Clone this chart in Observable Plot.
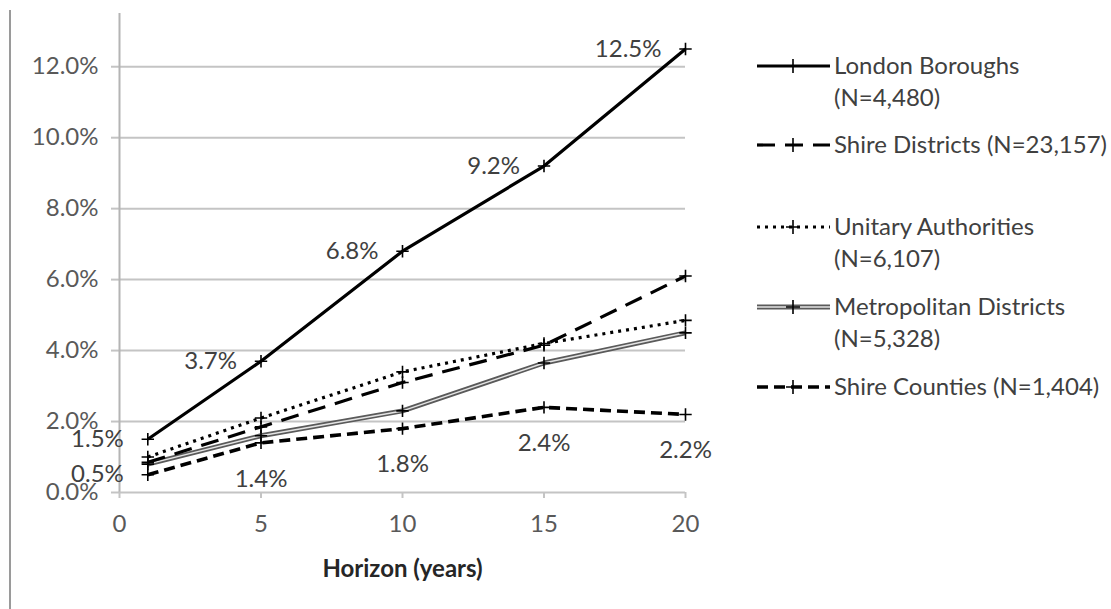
<!DOCTYPE html>
<html><head><meta charset="utf-8">
<script src="https://cdn.jsdelivr.net/npm/d3@7"></script>
<script src="https://cdn.jsdelivr.net/npm/@observablehq/plot@0.6"></script>
<style>
body{margin:0;background:#fff;}
#wrap{position:relative;width:1111px;height:609px;overflow:hidden;font-family:Lato, sans-serif;background:#fff;}
#wrap svg{position:absolute;left:0;top:0;}
#border{position:absolute;left:9px;top:10px;bottom:0;width:0;border-left:2px solid #9a9a9a;}
[aria-label="x-axis label"] text{font-weight:bold;fill:#262626;}
</style></head><body><div id="wrap"><div id="border"></div></div>
<script>
// ---- data ----
const horizons = [1, 5, 10, 15, 20];
const seriesNames = ["London Boroughs", "Shire Districts", "Unitary Authorities", "Metropolitan Districts", "Shire Counties"];
const londonBoroughs = [1.5, 3.7, 6.8, 9.2, 12.5];
const shireDistricts = [0.85, 1.85, 3.1, 4.15, 6.1];
const unitaryAuthorities = [1.0, 2.1, 3.4, 4.2, 4.85];
const metropolitanDistricts = [0.8, 1.6, 2.3, 3.65, 4.5];
const shireCounties = [0.5, 1.4, 1.8, 2.4, 2.2];
const legendLabels = [["London Boroughs", "(N=4,480)"], ["Shire Districts (N=23,157)"], ["Unitary Authorities", "(N=6,107)"], ["Metropolitan Districts", "(N=5,328)"], ["Shire Counties (N=1,404)"]];
const yTicks = [0, 2, 4, 6, 8, 10, 12];
const xTicks = [0, 5, 10, 15, 20];
const xTitle = "Horizon (years)";

// ---- build records ----
const allValues = [londonBoroughs, shireDistricts, unitaryAuthorities, metropolitanDistricts, shireCounties];
const recs = allValues.map((vals, i) => vals.map((v, j) => ({series: seriesNames[i], x: horizons[j], y: v})));
const fmt = v => v.toFixed(1) + "%";

const styles = [
  {stroke: "#000", width: 3.2, dash: null},
  {stroke: "#000", width: 3.2, dash: "18,10"},
  {stroke: "#000", width: 3.2, dash: "3,5"},
  {stroke: "#5a5a5a", width: 5, dash: null, inner: "#e4e4e4"},
  {stroke: "#000", width: 3.6, dash: "11,6"}
];
const cross = {draw(ctx, size) { const r = Math.sqrt(size) / 2; ctx.moveTo(-r, 0); ctx.lineTo(r, 0); ctx.moveTo(0, -r); ctx.lineTo(0, r); }};

function lineMarks(i) {
  const s = styles[i];
  const m = [Plot.line(recs[i], {x: "x", y: "y", stroke: s.stroke, strokeWidth: s.width, strokeDasharray: s.dash ?? undefined, strokeLinecap: "butt"})];
  if (s.inner) m.push(Plot.line(recs[i], {x: "x", y: "y", stroke: s.inner, strokeWidth: 1.5}));
  m.push(Plot.dot(recs[i], {x: "x", y: "y", symbol: cross, r: 7, stroke: "#000", strokeWidth: 1.6, fill: "none"}));
  return m;
}

const FS = "24px";
const chart = Plot.plot({
  width: 1111, height: 609,
  marginLeft: 119, marginRight: 426, marginTop: 13, marginBottom: 117,
  style: {fontFamily: "Lato, sans-serif", fontSize: FS, background: "transparent", overflow: "visible"},
  x: {domain: [0, 20]},
  y: {domain: [0, 13.5]},
  marks: [
    Plot.ruleY(yTicks.slice(1), {stroke: "#c4c4c4", strokeWidth: 2}),
    Plot.axisY({ticks: yTicks, tickSize: 8, tickPadding: 13, tickFormat: fmt, stroke: "#c4c4c4", strokeWidth: 2, fill: "#595959", label: null, fontSize: FS}),
    Plot.axisX({ticks: xTicks, tickSize: 6, tickPadding: 16, stroke: "#c4c4c4", strokeWidth: 2, fill: "#595959", label: xTitle, labelAnchor: "center", labelOffset: 84, labelArrow: "none", fontSize: FS}),
    Plot.ruleX([0], {stroke: "#b4b4b4", strokeWidth: 2}),
    Plot.ruleY([0], {stroke: "#c4c4c4", strokeWidth: 2}),
    ...lineMarks(3), ...lineMarks(4), ...lineMarks(2), ...lineMarks(1), ...lineMarks(0),
    Plot.text(recs[0], {x: "x", y: "y", text: d => fmt(d.y), textAnchor: "end", dx: -24, fill: "#404040", fontSize: FS}),
    Plot.text(recs[4].slice(0, 1), {x: "x", y: "y", text: d => fmt(d.y), textAnchor: "end", dx: -24, fill: "#404040", fontSize: FS}),
    Plot.text(recs[4].slice(1), {x: "x", y: "y", text: d => fmt(d.y), textAnchor: "middle", dy: 36, fill: "#404040", fontSize: FS})
  ]
});
document.getElementById("wrap").appendChild(chart);

// ---- legend ----
const legendY = [66, 145, 227, 307, 387];
const lg = d3.select("#wrap").append("svg").attr("width", 1111).attr("height", 609)
  .style("font-family", "Lato, sans-serif").style("font-size", FS);
legendLabels.forEach((lines, i) => {
  const s = styles[i], y = legendY[i];
  const g = lg.append("g");
  g.append("line").attr("x1", 757).attr("x2", 830).attr("y1", y).attr("y2", y)
    .attr("stroke", s.stroke).attr("stroke-width", s.width).attr("stroke-dasharray", s.dash);
  if (s.inner) g.append("line").attr("x1", 757).attr("x2", 830).attr("y1", y).attr("y2", y).attr("stroke", s.inner).attr("stroke-width", 1.5);
  g.append("path").attr("d", `M786,${y}h14M793,${y - 7}v14`).attr("stroke", "#000").attr("stroke-width", 1.6);
  lines.forEach((t, k) => g.append("text").attr("x", 834).attr("y", y + k * 32).attr("dy", "0.35em").attr("fill", "#404040").text(t));
});
</script></body></html>
